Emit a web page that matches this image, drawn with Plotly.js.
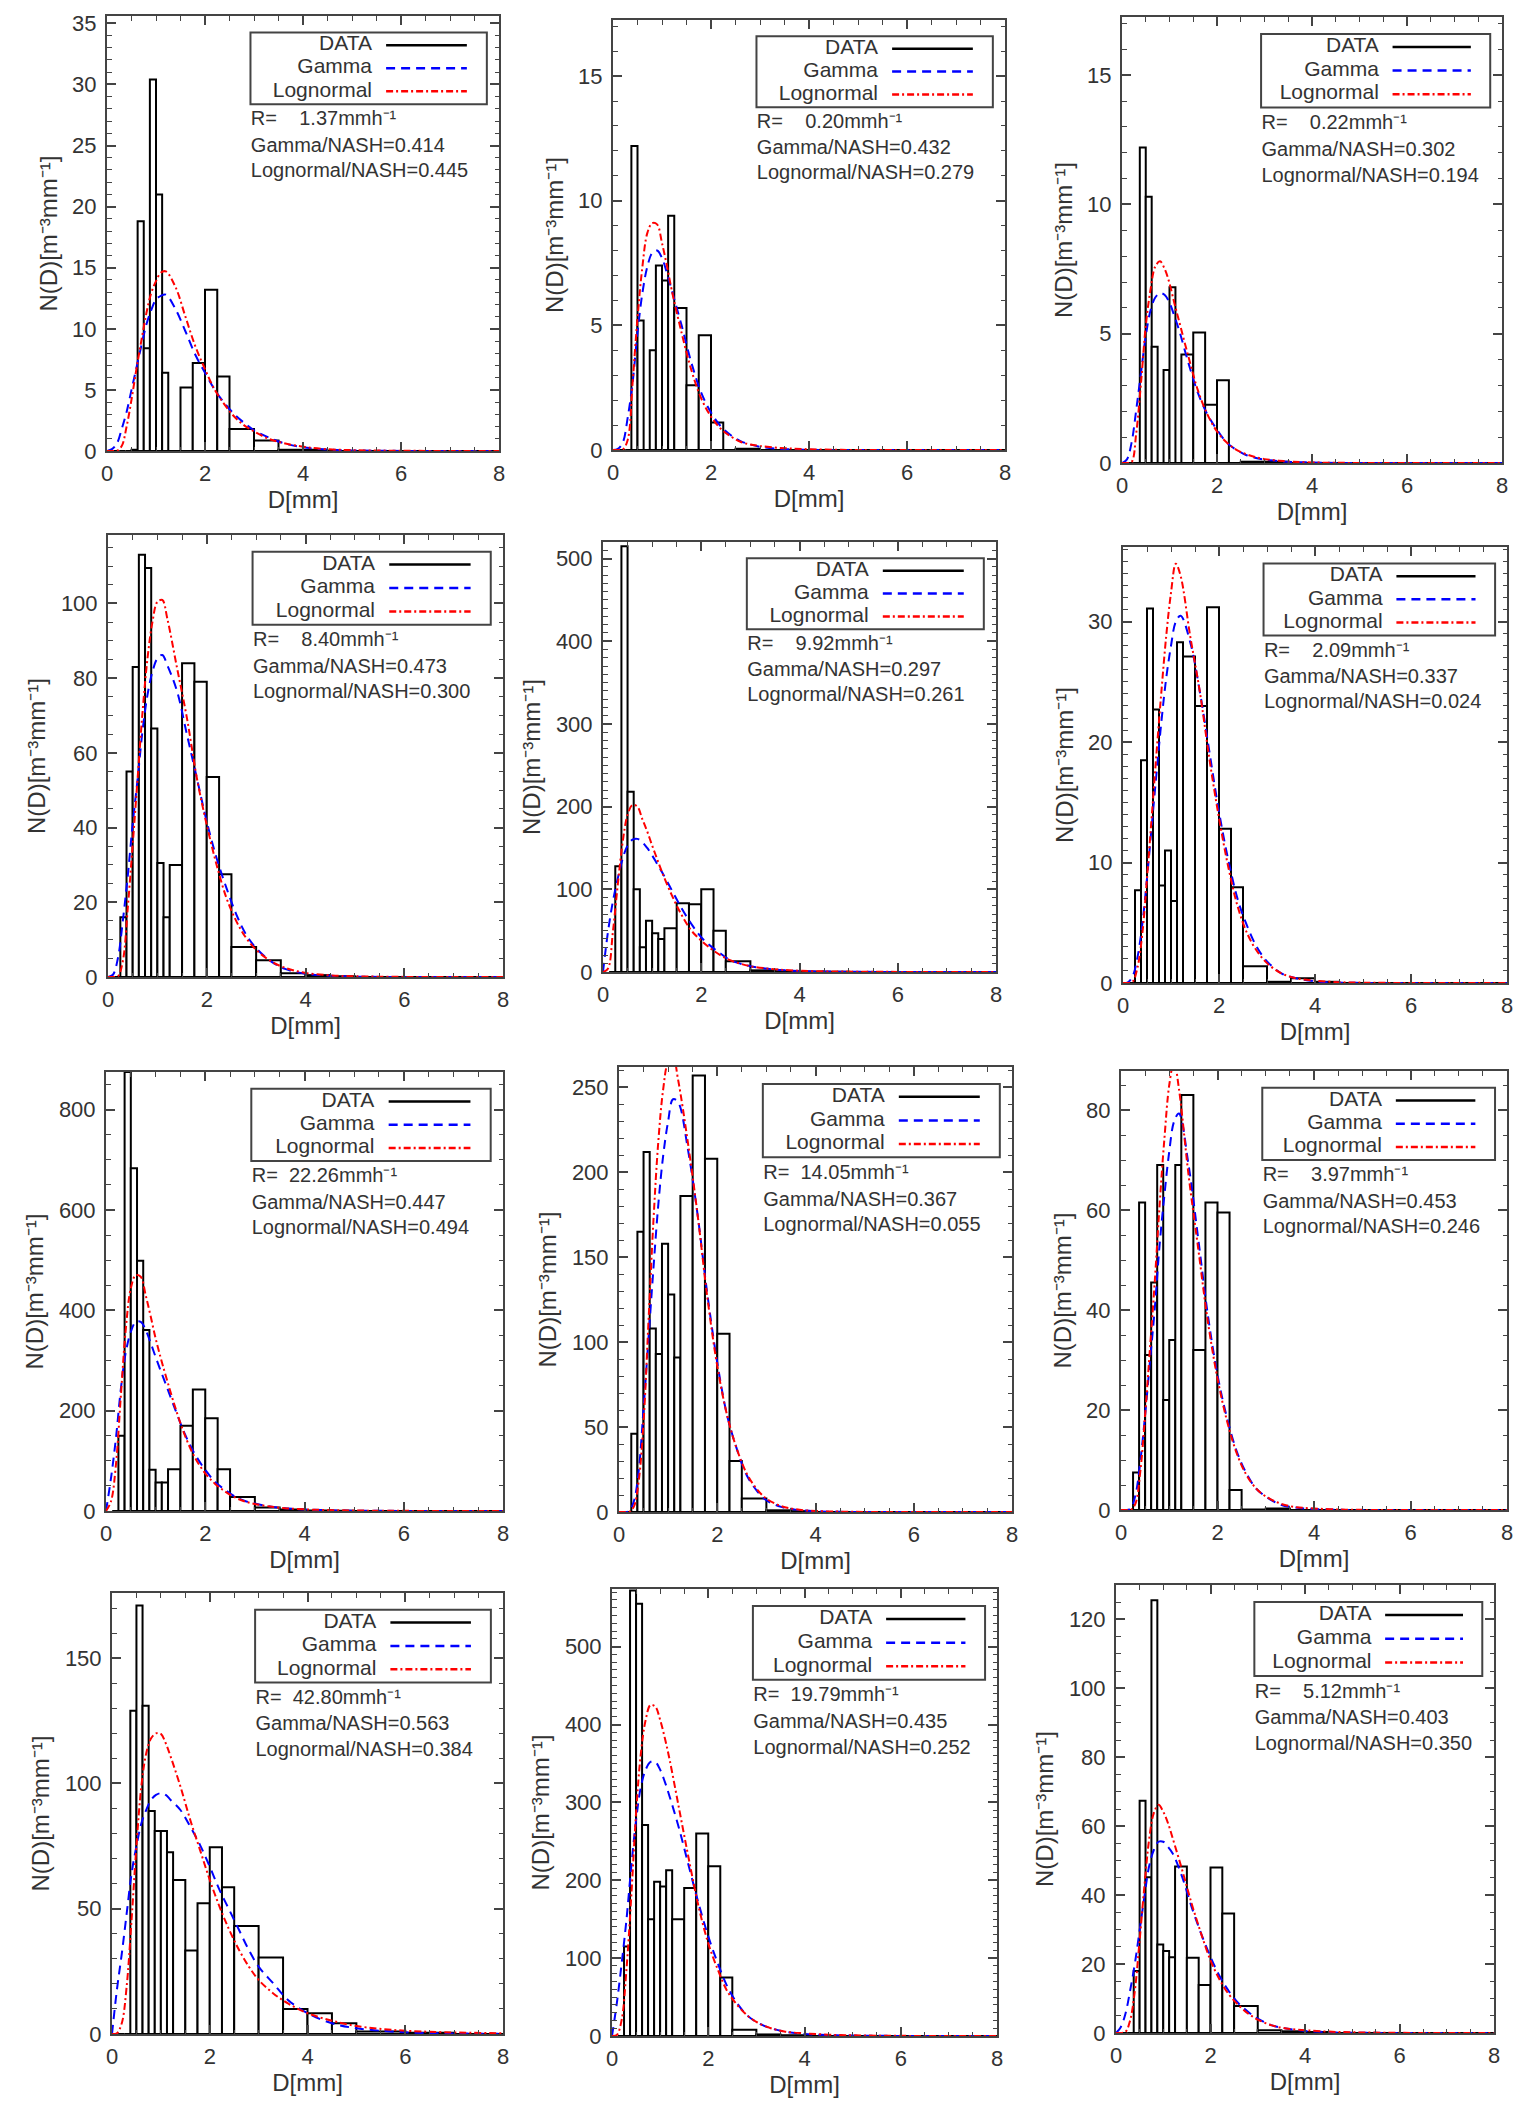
<!DOCTYPE html>
<html>
<head>
<meta charset="utf-8">
<script src="https://cdn.plot.ly/plotly-3.0.1.min.js"></script>
<style>
  html, body { margin: 0; padding: 0; background: #fff; }
  #chart { width: 1536px; height: 2106px; }
</style>
</head>
<body>
<div id="chart"></div>
<script>
// drop size classes (mm), edges of the histogram bins
var BIN_EDGES = [0.125, 0.25, 0.375, 0.5, 0.625, 0.75, 0.875, 1.0, 1.125, 1.25,
                 1.5, 1.75, 2.0, 2.25, 2.5, 3.0, 3.5, 4.0, 4.5, 5.0, 6.0, 7.0, 8.0];

// measured N(D), one value per bin
var ND_1  = [0, 0, 0, 0.1, 18.8, 8.4, 30.4, 21.0, 6.4, 0, 5.2, 7.2, 13.2, 6.1, 1.8, 0.85, 0.1, 0.1, 0, 0, 0, 0];
var ND_2  = [0, 0, 12.2, 5.2, 0, 4.0, 7.4, 6.8, 9.4, 5.7, 2.6, 4.6, 1.1, 0, 0.05, 0, 0, 0, 0, 0, 0, 0];
var ND_3  = [0, 0, 12.2, 10.3, 4.5, 0, 3.6, 6.8, 0, 4.2, 5.05, 2.25, 3.2, 0, 0.05, 0.05, 0, 0, 0, 0, 0, 0];
var ND_4  = [0, 16, 55, 83, 113, 109.5, 66.5, 30.5, 16, 30, 84, 79, 53.5, 27.5, 8, 4.5, 1, 0.5, 0.2, 0, 0, 0];
var ND_5  = [0, 128, 515, 218, 100, 30, 62, 47, 40, 53, 83, 82, 100, 50, 13, 2, 1, 0.5, 0.3, 0, 0, 0];
var ND_6  = [0, 7.7, 18.5, 31.1, 22.7, 8.1, 11, 6.8, 28.3, 27.1, 23, 31.2, 12.8, 7.95, 1.4, 0.1, 0.4, 0.1, 0, 0, 0, 0];
var ND_7  = [0, 150, 875, 683, 499, 361, 82, 57, 57, 83, 170, 242, 185, 83, 28, 7, 3, 1, 0.5, 0, 0, 0];
var ND_8  = [0, 46, 165, 212, 108, 93, 158, 128, 91, 186, 257, 208, 105, 30, 8, 1, 0.5, 0, 0, 0, 0, 0];
var ND_9  = [0, 7.5, 61.5, 31, 45.5, 69, 22, 34, 69, 83, 32, 61.5, 59.5, 4, 0.1, 0.3, 0, 0, 0, 0, 0, 0];
var ND_10 = [0, 0, 129, 171, 131, 89, 81, 81, 72.5, 61.5, 33.3, 52.2, 74.5, 58.6, 43.1, 30.5, 10, 8.3, 4.3, 1, 0.5, 0];
var ND_11 = [0, 115, 572, 555, 271, 150, 198, 192, 213, 150, 190, 260, 218, 75, 8, 2, 1, 0, 0, 0, 0, 0];
var ND_12 = [0, 0, 18, 67.4, 45.2, 125.6, 25.7, 23.8, 22, 48.3, 21.8, 13.9, 48, 34.7, 7.85, 0.8, 0.5, 0.3, 0, 0, 0, 0];

// diameters where the fitted curves were read
var D_FIT = [0, 0.1, 0.2, 0.3, 0.4, 0.5, 0.6, 0.7, 0.8, 0.9, 1.0, 1.1, 1.2, 1.4, 1.6, 1.8,
             2.0, 2.2, 2.4, 2.6, 2.8, 3.0, 3.3, 3.6, 4.0, 4.5, 5.0, 6.0, 8.0];

var GAM_1  = [0, 0.15, 0.6, 1.8, 3.2, 5.0, 6.8, 8.6, 10.3, 11.5, 12.4, 12.7, 12.8, 11.6, 9.8, 7.9, 6.4, 5.0, 3.9, 3.0, 2.3, 1.7, 1.1, 0.65, 0.3, 0.12, 0.05, 0.01, 0];
var LOG_1  = [0, 0, 0.02, 0.4, 2.0, 4.2, 6.7, 9.0, 11.2, 12.9, 13.9, 14.6, 14.7, 13.4, 11.0, 8.6, 6.7, 5.0, 3.8, 2.8, 2.1, 1.6, 1.0, 0.65, 0.35, 0.15, 0.07, 0.02, 0];
var GAM_2  = [0, 0.05, 0.3, 1.3, 2.7, 4.7, 6.3, 7.35, 7.9, 8.0, 7.7, 7.1, 6.4, 5.0, 3.5, 2.3, 1.5, 0.95, 0.6, 0.36, 0.22, 0.13, 0.06, 0.03, 0.01, 0, 0, 0, 0];
var LOG_2  = [0, 0, 0.02, 0.4, 2.7, 5.3, 7.35, 8.7, 9.1, 9.05, 8.3, 7.4, 6.4, 4.7, 3.2, 2.07, 1.34, 0.85, 0.55, 0.33, 0.22, 0.16, 0.1, 0.06, 0.03, 0.01, 0, 0, 0];
var GAM_3  = [0, 0.13, 0.77, 2.06, 3.5, 4.9, 5.9, 6.4, 6.57, 6.5, 6.2, 5.7, 5.15, 3.86, 2.7, 1.87, 1.29, 0.8, 0.52, 0.32, 0.2, 0.13, 0.07, 0.04, 0.02, 0, 0, 0, 0];
var LOG_3  = [0, 0, 0.03, 1.16, 3.1, 5.3, 6.7, 7.6, 7.8, 7.5, 6.95, 6.2, 5.5, 4.1, 2.8, 1.87, 1.22, 0.8, 0.52, 0.35, 0.23, 0.15, 0.09, 0.05, 0.02, 0.01, 0, 0, 0];
var GAM_4  = [0, 0.6, 5, 15, 27, 41, 53, 66, 75.5, 81.7, 85.3, 86.2, 83.5, 76.4, 64.8, 53.2, 41.6, 31.8, 23.8, 16.7, 11.3, 7.75, 4.2, 2.1, 0.9, 0.35, 0.1, 0.01, 0];
var LOG_4  = [0, 0, 0.2, 4.2, 18.4, 35.4, 53.2, 71, 85.3, 95, 100.4, 100.9, 96, 82.6, 69.2, 53.2, 40.7, 30, 21.1, 14.9, 10.4, 7.3, 4.2, 2.4, 1.1, 0.45, 0.2, 0.03, 0];
var GAM_5  = [0, 48, 85, 113, 137, 153, 160, 161, 157, 150, 141, 131, 121, 99, 77, 58, 42, 31, 22, 14, 10, 7, 4.3, 2.5, 1.2, 0.6, 0.3, 0.05, 0];
var LOG_5  = [0, 4, 48, 105, 157, 190, 202, 200, 185, 170, 153, 137, 121, 93, 69, 50, 38, 28, 20, 14, 10, 7, 4.5, 2.8, 1.5, 0.8, 0.5, 0.15, 0.02];
var GAM_6  = [0, 0.05, 0.55, 2.1, 4.8, 8.7, 13.1, 17.5, 21.7, 25.3, 28.0, 30.0, 30.5, 28.3, 24.2, 19.2, 14.2, 10.1, 6.8, 4.6, 2.9, 1.8, 0.8, 0.4, 0.14, 0.04, 0.01, 0, 0];
var LOG_6  = [0, 0, 0.1, 1.25, 4.0, 8.7, 13.9, 19.2, 24.2, 28.8, 32.4, 34.8, 33.8, 28.8, 24.2, 18.6, 13.7, 9.5, 6.2, 4.0, 2.6, 1.65, 0.8, 0.4, 0.2, 0.07, 0.03, 0, 0];
var GAM_7  = [0, 65, 145, 244, 317, 357, 377, 377, 361, 335, 307, 280, 254, 201, 151, 112, 82, 58, 42, 28.5, 20, 15, 9, 5.5, 3, 1.5, 0.7, 0.15, 0];
var LOG_7  = [0, 19, 92, 231, 364, 444, 470, 467, 430, 388, 344, 306, 271, 205, 148, 105, 75, 54, 39, 27, 19, 14, 9, 5.5, 3.3, 1.8, 1, 0.3, 0.05];
var GAM_8  = [0, 0, 0.4, 6, 24, 61, 102, 143, 181, 210, 230, 243, 241.5, 214, 175, 128, 88, 57, 37, 21.6, 12.8, 6.9, 3, 1.4, 0.4, 0.1, 0, 0, 0];
var LOG_8  = [0, 0, 0, 3, 18, 53, 112, 171, 218, 249, 265, 268, 255, 218, 175, 126, 86, 57, 37, 22.6, 13.7, 7.9, 3.5, 1.6, 0.6, 0.2, 0.05, 0, 0];
var GAM_9  = [0, 0, 0.3, 3, 9.7, 19, 29.7, 40.3, 53, 63, 71.7, 77.7, 79.3, 69, 54.3, 39, 27, 18.3, 11.7, 7.3, 4.3, 2.7, 1.1, 0.5, 0.2, 0.05, 0, 0, 0];
var LOG_9  = [0, 0, 0, 1.3, 7.7, 19, 32.3, 45.7, 61, 74.3, 85, 89.7, 84.3, 67, 52.3, 37.7, 26.3, 17.7, 11.3, 7, 4.3, 2.7, 1.3, 0.6, 0.3, 0.1, 0.03, 0, 0];
var GAM_10 = [0, 17.6, 32, 48, 64, 75, 84, 89.4, 93.4, 95.4, 96.1, 95.4, 93.4, 89.4, 82.8, 75.5, 66.8, 57.5, 49.5, 41.5, 33.5, 26.9, 20.2, 13.6, 8.3, 4.3, 2.3, 0.7, 0.1];
var LOG_10 = [0, 0.3, 4.3, 19, 45.5, 75, 98.8, 112, 118, 120, 119.8, 116, 110.7, 98.8, 85.5, 73.5, 61.5, 50.8, 41.5, 33.5, 26.9, 21.6, 16.2, 12.2, 8.3, 5.3, 3.2, 1.3, 0.3];
var GAM_11 = [0, 42, 93, 149, 217, 277, 320, 342, 352, 352, 342, 326, 307, 265, 217, 170, 128, 93, 63, 42, 27, 18, 10, 5.6, 2.6, 1.1, 0.5, 0.1, 0];
var LOG_11 = [0, 1.3, 20.5, 85, 179, 286, 363, 406, 425, 423, 406, 382, 354, 290, 226, 166, 119, 85, 57, 40, 27, 18, 10, 5.6, 3.4, 1.7, 0.9, 0.2, 0];
var GAM_12 = [0, 1.7, 5.6, 12.4, 20.2, 29.8, 39.5, 48.3, 53.1, 55.5, 55.5, 54, 52.1, 45.3, 36.6, 28.9, 22.1, 16.3, 11.9, 8.5, 6.1, 4.2, 2.2, 1.3, 0.6, 0.25, 0.1, 0, 0];
var LOG_12 = [0, 0, 0.3, 3.7, 12.4, 26.9, 42.4, 56, 63.8, 66.2, 64.2, 60.9, 56.5, 47.3, 37.6, 28.9, 21.1, 15.3, 11, 8, 5.6, 3.9, 2.2, 1.3, 0.8, 0.4, 0.2, 0.05, 0];

// rain rate and NASH scores printed in each panel
var RAIN_RATE  = [1.37, 0.20, 0.22, 8.40, 9.92, 2.09, 22.26, 14.05, 3.97, 42.80, 19.79, 5.12];
var NASH_GAMMA = [0.414, 0.432, 0.302, 0.473, 0.297, 0.337, 0.447, 0.367, 0.453, 0.563, 0.435, 0.403];
var NASH_LOGN  = [0.445, 0.279, 0.194, 0.300, 0.261, 0.024, 0.494, 0.055, 0.246, 0.384, 0.252, 0.350];

// y axes
var Y_MAX   = [35.6, 17.25, 17.25, 118.3, 520, 36.2, 875, 262, 87.8, 176, 574, 130];
var Y_DTICK = [5, 5, 5, 20, 100, 10, 200, 50, 20, 50, 100, 20];
var Y_MINOR = [1, 1, 1, 5, 10, 1, 50, 10, 5, 10, 10, 5];

// plot frames in pixels: left, right, top, bottom
var PLOT_BOX = [
    [107, 499, 16, 451], [613, 1005, 20, 450], [1122, 1502, 17, 463],
    [108, 503, 535, 977], [603, 996, 542, 972], [1123, 1507, 547, 983],
    [106, 503, 1072, 1511], [619, 1012, 1067, 1512], [1121, 1507, 1071, 1510],
    [112, 503, 1593, 2034], [612, 997, 1589, 2036], [1116, 1494, 1585, 2033]
];

var W = 1536, H = 2106;
var X_MAX = 8;
var FRAME = '#444';
var TXT = '#333';

var ND = [ND_1, ND_2, ND_3, ND_4, ND_5, ND_6, ND_7, ND_8, ND_9, ND_10, ND_11, ND_12];
var GAM = [GAM_1, GAM_2, GAM_3, GAM_4, GAM_5, GAM_6, GAM_7, GAM_8, GAM_9, GAM_10, GAM_11, GAM_12];
var LOGN = [LOG_1, LOG_2, LOG_3, LOG_4, LOG_5, LOG_6, LOG_7, LOG_8, LOG_9, LOG_10, LOG_11, LOG_12];

var binCenter = [], binWidth = [];
for (var b = 0; b < BIN_EDGES.length - 1; b++) {
    binCenter.push((BIN_EDGES[b] + BIN_EDGES[b + 1]) / 2);
    binWidth.push(BIN_EDGES[b + 1] - BIN_EDGES[b]);
}

var data = [];
var layout = {
    width: W,
    height: H,
    margin: {l: 0, r: 0, t: 0, b: 0},
    paper_bgcolor: '#fff',
    plot_bgcolor: '#fff',
    showlegend: false,
    font: {family: 'Liberation Sans', color: TXT, size: 22},
    shapes: []
};

var NBSP = '\u00a0';
// legend rows and info lines, positions as fractions of the frame
var LEG_ROWS = [
    {name: 'DATA', y: 0.933, color: '#000', dash: 'solid'},
    {name: 'Gamma', y: 0.880, color: '#0000ff', dash: '9px,6px'},
    {name: 'Lognormal', y: 0.827, color: '#ff0000', dash: '7px,3px,2px,3px'}
];
var INFO_Y = [0.760, 0.700, 0.642];

for (var i = 0; i < 12; i++) {
    var sfx = i > 0 ? String(i + 1) : '';
    var xr = 'x' + sfx, yr = 'y' + sfx;
    var box = PLOT_BOX[i];
    var ymax = Y_MAX[i];

    data.push({
        type: 'bar', x: binCenter, y: ND[i], width: binWidth,
        xaxis: xr, yaxis: yr,
        marker: {color: '#fff', line: {color: '#000', width: 2}},
        hoverinfo: 'skip'
    });
    data.push({
        type: 'scatter', mode: 'lines', x: D_FIT, y: GAM[i],
        xaxis: xr, yaxis: yr,
        line: {color: '#0000ff', width: 2, dash: '9px,6px', shape: 'spline'}
    });
    data.push({
        type: 'scatter', mode: 'lines', x: D_FIT, y: LOGN[i],
        xaxis: xr, yaxis: yr,
        line: {color: '#ff0000', width: 2, dash: '7px,3px,2px,3px', shape: 'spline'}
    });

    // legend labels, right-aligned before the line samples
    data.push({
        type: 'scatter', mode: 'text', xaxis: xr, yaxis: yr,
        x: LEG_ROWS.map(function() { return 0.676 * X_MAX; }),
        y: LEG_ROWS.map(function(r) { return r.y * ymax; }),
        text: LEG_ROWS.map(function(r) { return r.name; }),
        textposition: 'middle left',
        textfont: {size: 21, color: TXT},
        cliponaxis: false, hoverinfo: 'skip'
    });

    // rain rate and NASH lines
    var pad = RAIN_RATE[i] < 10 ? NBSP + NBSP + NBSP + NBSP : NBSP + NBSP;
    data.push({
        type: 'scatter', mode: 'text', xaxis: xr, yaxis: yr,
        x: INFO_Y.map(function() { return 0.367 * X_MAX; }),
        y: INFO_Y.map(function(f) { return f * ymax; }),
        text: [
            'R=' + pad + RAIN_RATE[i].toFixed(2) + 'mmh\u207b\u00b9',
            'Gamma/NASH=' + NASH_GAMMA[i].toFixed(3),
            'Lognormal/NASH=' + NASH_LOGN[i].toFixed(3)
        ],
        textposition: 'middle right',
        textfont: {size: 20, color: TXT},
        cliponaxis: false, hoverinfo: 'skip'
    });

    layout['xaxis' + sfx] = {
        domain: [box[0] / W, box[1] / W],
        anchor: yr,
        range: [0, X_MAX], tick0: 0, dtick: 2,
        ticks: 'inside', ticklen: 9, tickwidth: 1.5, tickcolor: FRAME,
        minor: {dtick: 0.5, ticks: 'inside', ticklen: 4.5, tickwidth: 1.2, tickcolor: FRAME},
        showline: true, linecolor: FRAME, linewidth: 2, mirror: 'ticks',
        showgrid: false, zeroline: false,
        tickfont: {size: 22, color: TXT},
        ticklabelstandoff: 2,
        title: {text: 'D[mm]', font: {size: 24, color: TXT}, standoff: 2}
    };
    layout['yaxis' + sfx] = {
        domain: [1 - box[3] / H, 1 - box[2] / H],
        anchor: xr,
        range: [0, ymax], tick0: 0, dtick: Y_DTICK[i],
        ticks: 'inside', ticklen: 9, tickwidth: 1.5, tickcolor: FRAME,
        minor: {dtick: Y_MINOR[i], ticks: 'inside', ticklen: 4.5, tickwidth: 1.2, tickcolor: FRAME},
        showline: true, linecolor: FRAME, linewidth: 2, mirror: 'ticks',
        showgrid: false, zeroline: false,
        tickfont: {size: 22, color: TXT},
        ticklabelstandoff: 4,
        title: {text: 'N(D)[m\u207b\u00b3mm\u207b\u00b9]', font: {size: 24, color: TXT}, standoff: 8}
    };

    var xd = xr + ' domain', yd = yr + ' domain';

    // legend box and line samples
    layout.shapes.push({
        type: 'rect', xref: xd, yref: yd,
        x0: 0.366, x1: 0.969, y0: 0.797, y1: 0.962,
        line: {color: FRAME, width: 2}, fillcolor: 'rgba(0,0,0,0)'
    });
    LEG_ROWS.forEach(function(row) {
        layout.shapes.push({
            type: 'line', xref: xd, yref: yd,
            x0: 0.712, x1: 0.918, y0: row.y, y1: row.y,
            line: {color: row.color, width: 2.5, dash: row.dash}
        });
    });
}

Plotly.newPlot('chart', data, layout, {displayModeBar: false});
</script>
</body>
</html>
